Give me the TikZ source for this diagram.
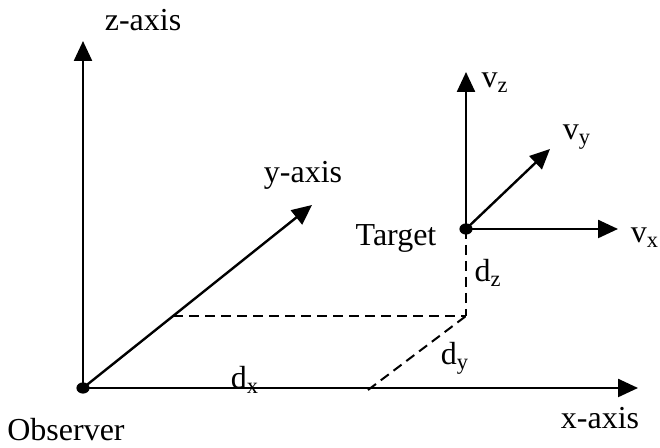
\documentclass[tikz,border=0pt]{standalone}
\usepackage{fontspec}
\setmainfont{Liberation Serif}
\usetikzlibrary{arrows.meta}
\tikzset{
    axis/.style={line width=1.2pt, -{Triangle[length=10pt,width=9pt]}},
    guide/.style={line width=1pt, dash pattern=on 5pt off 3pt},
    lbl/.style={font=\fontsize{16}{19}\selectfont, inner sep=0pt}
}
\begin{document}
\begin{tikzpicture}[x=0.5pt, y=0.5pt]
    \useasboundingbox (0,0) rectangle (660,448);

    % Observer and its axes
    \coordinate (obs) at (83,60);
    \coordinate (xend) at (638,60);
    \coordinate (zend) at (83,407);
    \coordinate (yend) at (312,243);
    \draw[axis] (obs) -- (xend);
    \draw[axis] (obs) -- (zend);
    \draw[axis] (obs) -- (yend);
    \fill (obs) ellipse (3.3pt and 2.8pt);
    \node[lbl] (xlab) at (600,30) {x-axis};
    \node[lbl] (zlab) at (143,428) {z-axis};
    \node[lbl] (ylab) at (303,273) {y-axis};
    \node[lbl] (obslab) at (66,18) {Observer};

    % Target and its velocity components
    \coordinate (tgt) at (466,219);
    \coordinate (vzend) at (466,376);
    \coordinate (vxend) at (618,219);
    \coordinate (vyend) at (550,299);
    \draw[axis] (tgt) -- (vzend);
    \draw[axis] (tgt) -- (vxend);
    \draw[axis] (tgt) -- (vyend);
    \fill (tgt) ellipse (3.3pt and 2.8pt);
    \node[lbl] (tgtlab) at (396,210) {Target};
    \node[lbl] (vzlab) at (495,365) {v\textsubscript{z}};
    \node[lbl] (vylab) at (577,311) {v\textsubscript{y}};
    \node[lbl] (vxlab) at (645,210) {v\textsubscript{x}};

    % Distances (dashed)
    \coordinate (corner) at (466,132);
    \coordinate (onyaxis) at (173,132);
    \coordinate (onxaxis) at (368,58);
    \draw[guide] (tgt) -- (corner);
    \draw[guide] (onyaxis) -- (corner);
    \draw[guide] (onxaxis) -- (corner);
    \node[lbl] (dzlab) at (488,175) {d\textsubscript{z}};
    \node[lbl] (dylab) at (455,90) {d\textsubscript{y}};
    \node[lbl] (dxlab) at (245,68) {d\textsubscript{x}};
\end{tikzpicture}
\end{document}
